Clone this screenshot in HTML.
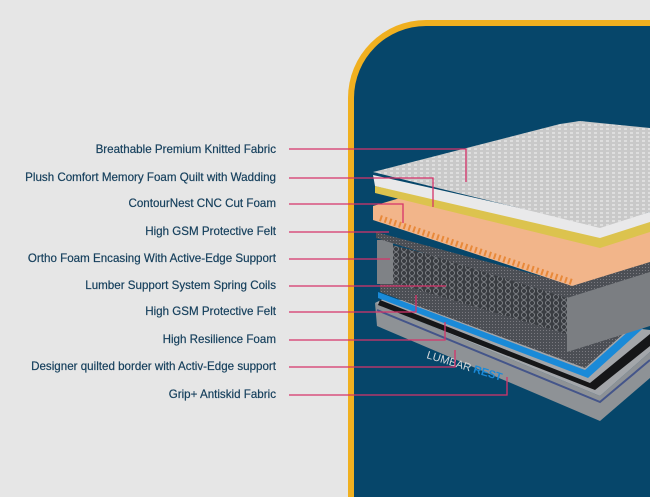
<!DOCTYPE html>
<html><head><meta charset="utf-8"><style>
html,body{margin:0;padding:0;width:650px;height:497px;overflow:hidden}
body{background:#e6e6e6;position:relative;font-family:"Liberation Sans",sans-serif}
.panel{position:absolute;left:348px;top:20px;width:320px;height:477px;background:#06466a;border:6px solid #f0b020;border-bottom:0;border-right:0;border-radius:78px 0 0 0;box-sizing:border-box}
.lbl{position:absolute;right:374px;font-size:11.6px;color:#153f5c;white-space:nowrap;line-height:14px;-webkit-text-stroke:0.2px #153f5c}
svg{position:absolute;left:0;top:0}
</style></head><body>
<div class="panel"></div>
<svg width="650" height="497" viewBox="0 0 650 497">
<defs>
<pattern id="knit" width="6" height="4" patternUnits="userSpaceOnUse"><rect width="6" height="4" fill="#c9c9c9"/><rect width="3" height="2" fill="#dedede"/></pattern>
<pattern id="sp" width="8" height="6" patternUnits="userSpaceOnUse"><rect width="8" height="6" fill="#3a3d42"/><circle cx="4" cy="3" r="2.5" fill="none" stroke="#8a8d92" stroke-width="0.8"/></pattern>
<pattern id="felt" width="3" height="3" patternUnits="userSpaceOnUse"><rect width="3" height="3" fill="#4c4f55"/><rect width="1" height="1" fill="#7a7a80"/></pattern>
</defs>
<polygon points="375,303 600,396 650,352 650,378 600,421 377,326" fill="#8e9296"/>
<polygon points="375,303 385,298 650,330 650,352 600,396" fill="#a3a6aa"/>
<polyline points="377,310 600,402 650,360" fill="none" stroke="#44558a" stroke-width="2"/>
<polygon points="380,300 590,383 650,334 650,346 595,390 378,305" fill="#151618"/>
<polygon points="378,292 585,370 650,312 650,322 588,378 378,298" fill="#1a8ad8"/>
<polygon points="380,282 392,278 650,296 650,310 585,368 380,292" fill="url(#felt)"/>
<polygon points="392,245 570,290 570,335 392,282" fill="url(#sp)"/>
<rect x="377" y="240" width="16" height="44" fill="#7f8286"/>
<polygon points="567,296 650,270 650,326 567,352" fill="#7b7e82"/>
<polygon points="376,232 570,284 650,262 650,272 567,298 376,238" fill="url(#felt)"/>
<polygon points="373,206 400,198 650,226 650,262 572,286 373,220" fill="#f2b58a"/>
<polyline points="380,218 572,282" fill="none" stroke="#e8893a" stroke-width="6" stroke-dasharray="2,3"/>
<polygon points="375,186 600,234 650,220 650,232 600,248 375,193" fill="#dcc34e"/>
<polygon points="373,175 600,226 650,212 650,222 600,238 375,186" fill="#e9e9ea"/>
<polygon points="373,172 560,124 580,121 650,128 650,212 600,228" fill="url(#knit)"/>
<text x="426" y="358" font-size="11" fill="#d8dadc" font-family="Liberation Sans" transform="rotate(17 426 358)">LUMBAR <tspan fill="#1a8ad8" font-weight="bold">REST</tspan></text>
<g fill="none" stroke="#d6336a" stroke-width="1.3">
<polyline points="289,149 466,149 466,182"/>
<polyline points="289,178 433,178 433,207"/>
<polyline points="289,204 403,204 403,223"/>
<polyline points="289,232 389,232"/>
<polyline points="289,259 390,259"/>
<polyline points="289,286 446,286"/>
<polyline points="289,312 416,312 416,295"/>
<polyline points="289,340 445,340 445,322"/>
<polyline points="289,367 455,367 455,350"/>
<polyline points="289,395 507,395 507,377"/>
</g>
</svg>
<div class="lbl" style="top:143px">Breathable Premium Knitted Fabric</div>
<div class="lbl" style="top:171px">Plush Comfort Memory Foam Quilt with Wadding</div>
<div class="lbl" style="top:197px">ContourNest CNC Cut Foam</div>
<div class="lbl" style="top:225px">High GSM Protective Felt</div>
<div class="lbl" style="top:252px">Ortho Foam Encasing With Active-Edge Support</div>
<div class="lbl" style="top:279px">Lumber Support System Spring Coils</div>
<div class="lbl" style="top:305px">High GSM Protective Felt</div>
<div class="lbl" style="top:333px">High Resilience Foam</div>
<div class="lbl" style="top:360px">Designer quilted border with Activ-Edge support</div>
<div class="lbl" style="top:388px">Grip+ Antiskid Fabric</div>
</body></html>
